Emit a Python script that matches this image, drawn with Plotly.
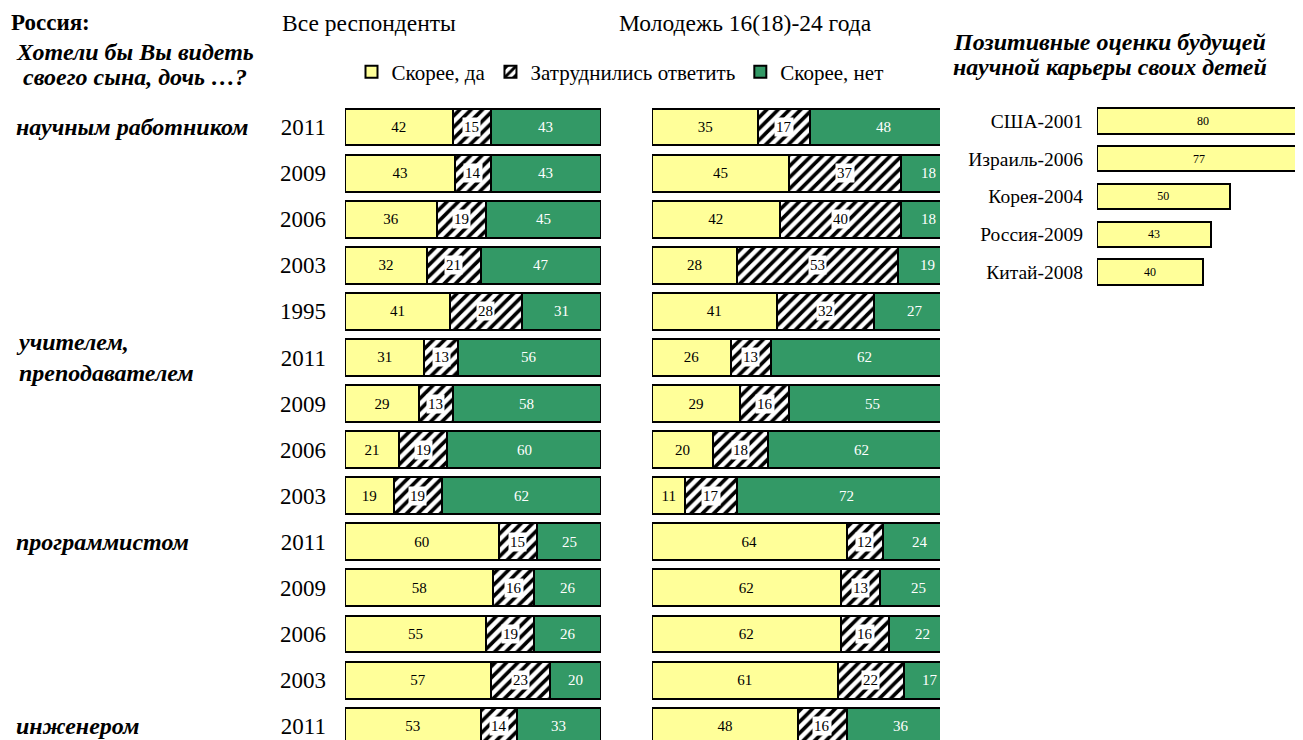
import plotly.graph_objects as go

# ---------------- data ----------------
years = ["2011", "2009", "2006", "2003", "1995",
         "2011", "2009", "2006", "2003",
         "2011", "2009", "2006", "2003",
         "2011"]
groups = ["научным работником", "учителем,<br>преподавателем", "программистом", "инженером"]
group_rows = [0, 5, 9, 13]

all_yes = [42, 43, 36, 32, 41, 31, 29, 21, 19, 60, 58, 55, 57, 53]
all_unsure = [15, 14, 19, 21, 28, 13, 13, 19, 19, 15, 16, 19, 23, 14]
all_no = [43, 43, 45, 47, 31, 56, 58, 60, 62, 25, 26, 26, 20, 33]

young_yes = [35, 45, 42, 28, 41, 26, 29, 20, 11, 64, 62, 62, 61, 48]
young_unsure = [17, 37, 40, 53, 32, 13, 16, 18, 17, 12, 13, 16, 22, 16]
young_no = [48, 18, 18, 19, 27, 62, 55, 62, 72, 24, 25, 22, 17, 36]

countries = ["США-2001", "Израиль-2006", "Корея-2004", "Россия-2009", "Китай-2008"]
country_vals = [80, 77, 50, 43, 40]

series_names = ["Скорее, да", "Затруднились ответить", "Скорее, нет"]

# ---------------- style ----------------
PAGE_W, PAGE_H = 1303, 740
OFF = 8  # default body margin of the html page
W, H = PAGE_W - OFF, PAGE_H - OFF
YELLOW = "#FFFF99"
GREEN = "#339966"
FONT = "Liberation Serif"
rows = list(range(len(years)))


def px(x):
    return (x - OFF) / W


def py(y):
    return 1 - (y - OFF) / H


fig = go.Figure()

line = dict(color="black", width=2)
hatch = dict(shape="/", fgcolor="black", bgcolor="white", size=8, solidity=0.45,
             fgopacity=1)

for xa, yes, uns, no, show in [("x", all_yes, all_unsure, all_no, True),
                               ("x2", young_yes, young_unsure, young_no, False)]:
    fig.add_trace(go.Bar(
        y=rows, x=yes, orientation="h", xaxis=xa, yaxis="y",
        name=series_names[0], showlegend=show, legendgroup="a",
        marker=dict(color=YELLOW, line=line), width=0.8,
        text=yes, textposition="inside", insidetextanchor="middle", textangle=0,
        textfont=dict(family=FONT, size=15, color="black"),
    ))
    fig.add_trace(go.Bar(
        y=rows, x=uns, orientation="h", xaxis=xa, yaxis="y",
        name=series_names[1], showlegend=show, legendgroup="b",
        marker=dict(color="white", line=line, pattern=hatch), width=0.8,
    ))
    fig.add_trace(go.Bar(
        y=rows, x=no, orientation="h", xaxis=xa, yaxis="y",
        name=series_names[2], showlegend=show, legendgroup="c",
        marker=dict(color=GREEN, line=line), width=0.8,
    ))
    # labels of the hatched segment on a white box, and of the green segment
    for r, a, u, n in zip(rows, yes, uns, no):
        fig.add_annotation(x=a + u / 2, y=r, xref=xa, yref="y", text=str(u),
                           showarrow=False, bgcolor="white", borderpad=1,
                           font=dict(family=FONT, size=15, color="black"))
        fig.add_annotation(x=a + u + n / 2, y=r, xref=xa, yref="y", text=str(n),
                           showarrow=False,
                           font=dict(family=FONT, size=15, color="white"))

fig.add_trace(go.Bar(
    y=list(range(len(countries))), x=country_vals, orientation="h",
    xaxis="x3", yaxis="y3", showlegend=False,
    marker=dict(color=YELLOW, line=line), width=0.67,
    text=country_vals, textposition="inside", insidetextanchor="middle", textangle=0,
    textfont=dict(family=FONT, size=12, color="black"),
))

fig.update_layout(
    barmode="stack",
    width=W, height=H,
    margin=dict(l=0, r=0, t=0, b=0),
    paper_bgcolor="white", plot_bgcolor="white",
    font=dict(family=FONT, color="black"),
    showlegend=True,
    legend=dict(orientation="h", x=px(620), y=py(72), xanchor="center", yanchor="middle",
                font=dict(family=FONT, size=21), itemwidth=30, traceorder="normal",
                bgcolor="rgba(0,0,0,0)", tracegroupgap=0),
    xaxis=dict(domain=[px(345), px(601)], range=[0, 100], visible=False, fixedrange=True),
    xaxis2=dict(domain=[px(652), px(940)], range=[0, 94.7], visible=False, anchor="y",
                fixedrange=True),
    xaxis3=dict(domain=[px(1097), 1], range=[0, 77.7], visible=False, anchor="y3",
                fixedrange=True),
    yaxis=dict(domain=[0, py(100)], range=[13.30, -0.586], anchor="x",
               tickmode="array", tickvals=rows, ticktext=years,
               tickfont=dict(family=FONT, size=23), ticks="", showgrid=False,
               zeroline=False, showline=False, ticklabelstandoff=18, fixedrange=True),
    yaxis3=dict(domain=[py(300), py(100)], range=[4.742, -0.556], anchor="x3",
                tickmode="array", tickvals=list(range(len(countries))), ticktext=countries,
                tickfont=dict(family=FONT, size=19.5), ticks="", showgrid=False,
                zeroline=False, showline=False, ticklabelstandoff=13, fixedrange=True),
)


# header texts
def txt(x, y, s, size=24, bold=False, italic=False, anchor="left"):
    if bold:
        s = "<b>" + s + "</b>"
    if italic:
        s = "<i>" + s + "</i>"
    fig.add_annotation(x=x, y=y, xref="paper", yref="paper", text=s, showarrow=False,
                       xanchor=anchor, yanchor="middle", align=anchor,
                       font=dict(family=FONT, size=size, color="black"))


txt(px(9), py(23), "Россия:", size=23, bold=True)
txt(px(135), py(52), "Хотели бы Вы видеть", size=24, bold=True, italic=True, anchor="center")
txt(px(135), py(77), "своего сына, дочь …?", size=24, bold=True, italic=True, anchor="center")
txt(px(280), py(23), "Все респонденты", size=23.5)
txt(px(617), py(23), "Молодежь 16(18)-24 года", size=23.5)
txt(px(951), py(42), "Позитивные оценки будущей", size=24, bold=True, italic=True)
txt(px(951), py(67), "научной карьеры своих детей", size=24, bold=True, italic=True)

for g, r in zip(groups, group_rows):
    fig.add_annotation(x=px(14), y=r, xref="paper", yref="y", text="<b><i>" + g + "</i></b>",
                       showarrow=False, xanchor="left", yanchor="middle", align="left",
                       font=dict(family=FONT, size=24, color="black"))

fig.write_html("out.html")
